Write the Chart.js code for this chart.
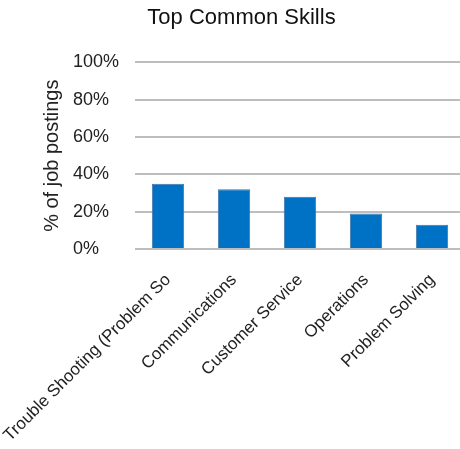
<!DOCTYPE html>
<html>
<head>
<meta charset="utf-8">
<script src="https://cdn.jsdelivr.net/npm/chart.js@4/dist/chart.umd.min.js"></script>
<style>
  html, body { margin: 0; padding: 0; background: #fff; overflow: hidden; }
  canvas { display: block; }
</style>
</head>
<body>
<canvas id="canvas" width="466" height="449"></canvas>
<script>
// skills and share of postings (%)
var skills = ["Trouble Shooting (Problem So", "Communications", "Customer Service", "Operations", "Problem Solving"];
var shares = [35, 32, 28, 19, 13];
var yTicks = [0, 20, 40, 60, 80, 100];

var font = "'Liberation Sans', Arial, sans-serif";

var config = {
    type: 'bar',
    data: {
        labels: skills,
        datasets: [{
            label: '% of job postings',
            data: shares,
            backgroundColor: '#0072c6',
            borderColor: '#3f74a8',
            borderWidth: 1,
            barPercentage: 0.49,
            categoryPercentage: 1
        }]
    },
    options: {
        responsive: false,
        animation: false,
        layout: { padding: { left: 18, right: 1, top: 0, bottom: 0 } },
        plugins: {
            legend: { display: false },
            tooltip: { enabled: false },
            title: {
                display: true,
                text: 'Top Common Skills',
                color: '#111',
                font: { family: font, size: 22, weight: 'normal' },
                padding: { top: 5, bottom: 31 }
            }
        },
        scales: {
            x: {
                grid: { display: false, drawTicks: false },
                border: { display: false },
                ticks: {
                    color: '#222',
                    font: { family: font, size: 17 },
                    autoSkip: false,
                    maxRotation: 45,
                    minRotation: 45,
                    padding: 21
                },
                afterFit: function (scale) {
                    // long rotated labels should not push the plot inwards
                    scale.height = 200;
                    scale.paddingLeft = 0;
                    scale.paddingRight = 0;
                }
            },
            y: {
                min: 0,
                max: 100,
                weight: 0,
                afterBuildTicks: function (scale) {
                    scale.ticks = yTicks.map(function (v) { return { value: v }; });
                },
                grid: { color: '#bdbdbd', lineWidth: 2, drawTicks: false },
                border: { display: false },
                ticks: {
                    color: '#222',
                    font: { family: font, size: 18 },
                    crossAlign: 'far',
                    padding: 15,
                    callback: function (v) { return v + '%'; }
                },
                afterFit: function (scale) { scale.width = 62; }
            },
            // outer axis only carries the title
            yTitle: {
                type: 'linear',
                position: 'left',
                weight: 1,
                min: 0,
                max: 100,
                grid: { display: false, drawTicks: false },
                border: { display: false },
                ticks: { display: false },
                title: {
                    display: true,
                    text: '% of job postings',
                    color: '#222',
                    font: { family: font, size: 20 },
                    padding: { top: 22, bottom: 0 }
                },
                afterFit: function (scale) { scale.width = 55; }
            }
        }
    }
};

window.onload = function () {
    var ctx = document.getElementById('canvas').getContext('2d');
    window.myBar = new Chart(ctx, config);
};
</script>
</body>
</html>
